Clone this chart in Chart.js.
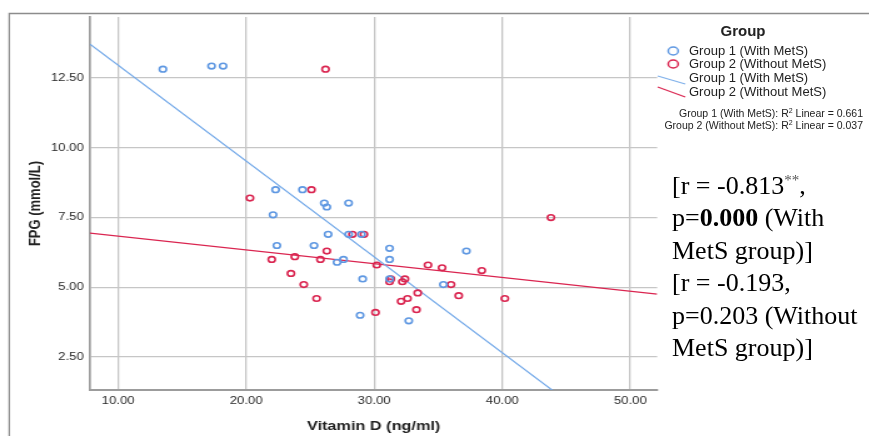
<!DOCTYPE html>
<html>
<head>
<meta charset="utf-8">
<script src="https://cdn.jsdelivr.net/npm/chart.js@4.4.0/dist/chart.umd.min.js"></script>
<style>
  html, body { margin: 0; padding: 0; background: #fff; }
  body { width: 869px; height: 436px; position: relative; overflow: hidden; font-family: "Liberation Sans", Arial, sans-serif; }
  /* the SPSS plot in the reference is stretched sideways, so draw it narrow and widen it */
  #wrap { position: absolute; left: 0; top: 0; width: 695px; height: 436px; transform: scaleX(1.2504); transform-origin: 0 0; }
  .leg { position: absolute; color: #222; white-space: nowrap; }
  #legTitle { left: 693px; width: 100px; top: 22px; text-align: center; font-weight: bold; font-size: 15px; line-height: 18px; }
  .row { left: 689px; font-size: 13px; line-height: 14px; }
  .r2 { right: 6px; font-size: 10.5px; line-height: 12px; text-align: right; }
  .r2 sup { font-size: 7px; vertical-align: 4px; line-height: 0; }
  #note { position: absolute; left: 672px; top: 170px; font-family: "Liberation Serif", "Times New Roman", serif; font-size: 26px; line-height: 32.4px; color: #000; white-space: nowrap; }
  #note sup { font-size: 15px; color: #555; vertical-align: 9px; line-height: 0; }
</style>
</head>
<body>
<div id="wrap"><canvas id="c" width="695" height="436"></canvas></div>

<div class="leg" id="legTitle">Group</div>
<div class="leg row" style="top:44px">Group 1 (With MetS)</div>
<div class="leg row" style="top:57px">Group 2 (Without MetS)</div>
<div class="leg row" style="top:71px">Group 1 (With MetS)</div>
<div class="leg row" style="top:85px">Group 2 (Without MetS)</div>
<div class="leg r2" style="top:107px">Group 1 (With MetS): R<sup>2</sup> Linear = 0.661</div>
<div class="leg r2" style="top:119px">Group 2 (Without MetS): R<sup>2</sup> Linear = 0.037</div>

<div id="note">[r = -0.813<sup>**</sup>,<br>p=<b>0.000</b> (With<br>MetS group)]<br>[r = -0.193,<br>p=0.203 (Without<br>MetS group)]</div>

<script>
// Vitamin D (x) and FPG (y)
const g1Vd  = [13.5, 17.3, 18.2, 22.3, 24.4, 22.1, 26.1, 26.3, 28.0, 26.4, 28.0, 29.0,
               22.4, 25.3, 27.1, 27.6, 31.2, 31.2, 37.2, 29.1, 31.2, 35.4, 28.9, 32.7];
const g1Fpg = [12.82, 12.93, 12.93, 8.5, 8.5, 7.6, 8.02, 7.88, 8.02, 6.9, 6.9, 6.9,
               6.5, 6.5, 5.9, 6.0, 6.4, 6.0, 6.3, 5.3, 5.3, 5.1, 4.0, 3.8];

const g2Vd  = [20.3, 25.1, 26.2, 28.3, 29.2, 26.3, 23.8, 25.8, 22.0, 30.2, 34.2, 35.3,
               38.4, 43.8, 23.5, 24.5, 31.3, 31.2, 32.4, 32.2, 36.0, 25.5, 33.4, 32.6,
               32.1, 36.6, 40.2, 33.3, 30.1];
const g2Fpg = [8.2, 8.5, 12.82, 6.9, 6.9, 6.3, 6.1, 6.0, 6.0, 5.8, 5.8, 5.7,
               5.6, 7.5, 5.5, 5.1, 5.3, 5.2, 5.3, 5.2, 5.1, 4.6, 4.8, 4.6,
               4.5, 4.7, 4.6, 4.2, 4.1];

// fit lines as [intercept, slope]
const g1Fit = [16.40, -0.3436];
const g2Fit = [7.33, -0.04936];

const xRange = [7.81, 52.1];
const yRange = [1.32, 14.69];
const xTicks = [10, 20, 30, 40, 50];
const yTicks = [2.5, 5, 7.5, 10, 12.5];

const blue = '#5f98e2';
const red = '#da2550';

const toPts = (xs, ys) => xs.map((x, i) => ({ x: x, y: ys[i] }));
const fitPts = (c) => xRange.map(x => ({ x: x, y: c[0] + c[1] * x }));

const decor = {
  id: 'decor',
  beforeDraw(chart) {
    const ctx = chart.ctx;
    ctx.save();
    ctx.strokeStyle = '#8c8c8c';
    ctx.lineWidth = 1.3;
    ctx.beginPath();
    ctx.moveTo(7.4, 436);
    ctx.lineTo(7.4, 13.5);
    ctx.lineTo(chart.width, 13.5);
    ctx.stroke();
    ctx.restore();
  },
  afterDraw(chart) {
    // legend symbols
    const ctx = chart.ctx;
    ctx.save();
    ctx.lineWidth = 1.5;
    ctx.strokeStyle = blue;
    ctx.beginPath(); ctx.arc(538.4, 51, 4, 0, Math.PI * 2); ctx.stroke();
    ctx.strokeStyle = red;
    ctx.beginPath(); ctx.arc(538.4, 64, 4, 0, Math.PI * 2); ctx.stroke();
    ctx.lineWidth = 1.1;
    ctx.strokeStyle = '#7fb0ea';
    ctx.beginPath(); ctx.moveTo(526, 76); ctx.lineTo(548, 84); ctx.stroke();
    ctx.strokeStyle = red;
    ctx.beginPath(); ctx.moveTo(526, 87); ctx.lineTo(548, 97); ctx.stroke();
    ctx.restore();
  }
};

new Chart(document.getElementById('c'), {
  type: 'scatter',
  data: {
    datasets: [
      {
        label: 'Group 1 (With MetS)',
        data: toPts(g1Vd, g1Fpg),
        pointRadius: 2.8,
        pointBorderWidth: 1.6,
        pointBorderColor: blue,
        pointBackgroundColor: 'rgba(0,0,0,0)'
      },
      {
        label: 'Group 2 (Without MetS)',
        data: toPts(g2Vd, g2Fpg),
        pointRadius: 2.8,
        pointBorderWidth: 1.6,
        pointBorderColor: red,
        pointBackgroundColor: 'rgba(0,0,0,0)'
      },
      {
        type: 'line',
        label: 'Group 1 fit',
        data: fitPts(g1Fit),
        borderColor: '#72a8e8',
        borderWidth: 1.2,
        pointRadius: 0
      },
      {
        type: 'line',
        label: 'Group 2 fit',
        data: fitPts(g2Fit),
        borderColor: red,
        borderWidth: 1.2,
        pointRadius: 0
      }
    ]
  },
  options: {
    responsive: false,
    animation: false,
    devicePixelRatio: 1,
    layout: { padding: { top: 17, right: 169.4, left: 0, bottom: 0 } },
    plugins: { legend: { display: false }, tooltip: { enabled: false } },
    scales: {
      x: {
        type: 'linear',
        min: xRange[0],
        max: xRange[1],
        afterBuildTicks: s => { s.ticks = xTicks.map(v => ({ value: v })); },
        afterFit: s => { s.height = 46; },
        grid: { color: '#c6c6c6', lineWidth: 1.3, drawTicks: false },
        border: { color: '#9c9c9c', width: 2 },
        ticks: {
          padding: 5,
          color: '#2a2a2a',
          font: { family: '"Liberation Sans", Arial', size: 10.5 },
          callback: v => v.toFixed(2)
        },
        title: {
          display: true,
          text: 'Vitamin D (ng/ml)',
          color: '#222',
          font: { family: '"Liberation Sans", Arial', size: 13, weight: 'bold' },
          padding: { top: 0, bottom: 2 }
        }
      },
      y: {
        type: 'linear',
        min: yRange[0],
        max: yRange[1],
        afterBuildTicks: s => { s.ticks = yTicks.map(v => ({ value: v })); },
        afterFit: s => { s.width = 72; },
        grid: { color: '#c6c6c6', lineWidth: 1.3, drawTicks: false },
        border: { color: '#9c9c9c', width: 1.7 },
        ticks: {
          padding: 5,
          color: '#2a2a2a',
          font: { family: '"Liberation Sans", Arial', size: 10.5 },
          callback: v => v.toFixed(2)
        },
        title: {
          display: true,
          text: 'FPG (mmol/L)',
          color: '#222',
          font: { family: '"Liberation Sans", Arial', size: 13, weight: 'bold' },
          padding: { top: 21, bottom: 0 }
        }
      }
    }
  },
  plugins: [decor]
});
</script>
</body>
</html>
